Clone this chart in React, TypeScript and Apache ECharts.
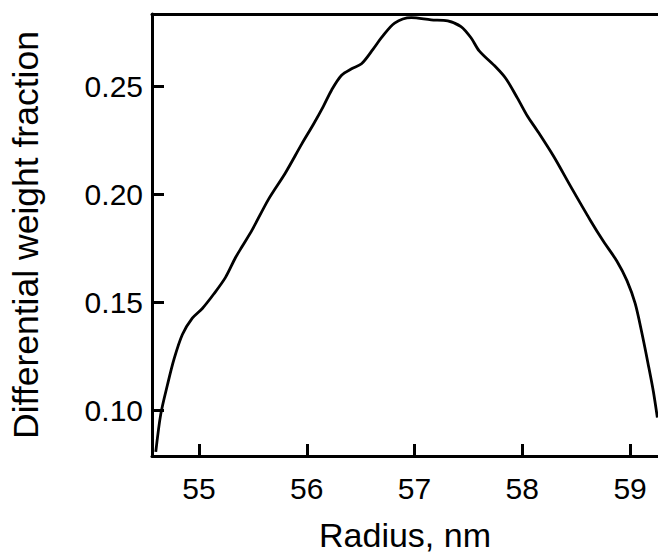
import React, { useEffect, useRef } from "react";
import * as echarts from "echarts";

const radius = [
  54.599, 54.645, 54.707, 54.769, 54.846, 54.938, 55.031, 55.139, 55.246, 55.338,
  55.4, 55.492, 55.646, 55.8, 55.954, 56.062, 56.154, 56.231, 56.323, 56.416,
  56.508, 56.616, 56.693, 56.815, 56.97, 57.154, 57.308, 57.431, 57.524, 57.6,
  57.754, 57.847, 57.955, 58.047, 58.139, 58.293, 58.447, 58.632, 58.754, 58.878,
  58.971, 59.047, 59.109, 59.17, 59.216, 59.253,
];
const fraction = [
  0.0807, 0.0981, 0.1117, 0.1238, 0.1351, 0.1427, 0.1472, 0.154, 0.1616, 0.1707,
  0.1759, 0.1835, 0.1979, 0.2099, 0.2235, 0.2326, 0.2409, 0.2485, 0.2553, 0.2583,
  0.2606, 0.2674, 0.2727, 0.2795, 0.282, 0.281, 0.2805, 0.2779, 0.2727, 0.2666,
  0.2591, 0.2538, 0.2447, 0.2364, 0.2296, 0.2175, 0.2039, 0.188, 0.1782, 0.1691,
  0.1601, 0.1495, 0.1359, 0.1208, 0.1087, 0.0966,
];
const xTicks = [55, 56, 57, 58, 59];
const yTicks = [0.1, 0.15, 0.2, 0.25];

const FONT = "'Liberation Sans', Arial, sans-serif";

export default function App() {
  const ref = useRef<HTMLDivElement>(null);
  useEffect(() => {
    if (!ref.current) return;
    const chart = echarts.init(ref.current, null, { renderer: "svg" });
    const axisLine = { show: true, lineStyle: { color: "#000", width: 3 } };
    chart.setOption({
      animation: false,
      backgroundColor: "#fff",
      grid: { left: 149.5, top: 14, right: 0, bottom: 91, containLabel: false },
      xAxis: [
        {
          type: "value",
          min: 54.564,
          max: 59.259,
          position: "bottom",
          axisLine,
          splitLine: { show: false },
          axisTick: {
            show: true,
            inside: true,
            length: 12,
            customValues: xTicks,
            lineStyle: { color: "#000", width: 3 },
          },
          axisLabel: {
            show: true,
            customValues: xTicks,
            margin: 17,
            color: "#000",
            fontSize: 30,
            fontFamily: FONT,
            formatter: (v: number) => String(Math.round(v)),
          },
          name: "Radius, nm",
          nameLocation: "middle",
          nameGap: 62,
          nameTextStyle: { color: "#000", fontSize: 34, fontFamily: FONT },
        },
        {
          type: "value",
          min: 54.564,
          max: 59.259,
          position: "top",
          axisLine,
          splitLine: { show: false },
          axisTick: { show: false },
          axisLabel: { show: false },
        },
      ],
      yAxis: {
        type: "value",
        min: 0.0788,
        max: 0.2837,
        axisLine,
        splitLine: { show: false },
        axisTick: {
          show: true,
          inside: true,
          length: 12,
          customValues: yTicks,
          lineStyle: { color: "#000", width: 3 },
        },
        axisLabel: {
          show: true,
          customValues: yTicks,
          margin: 9,
          color: "#000",
          fontSize: 30,
          fontFamily: FONT,
          formatter: (v: number) => v.toFixed(2),
        },
        name: "Differential weight fraction",
        nameLocation: "middle",
        nameGap: 108,
        nameTextStyle: { color: "#000", fontSize: 35.5, fontFamily: FONT },
      },
      series: [
        {
          type: "line",
          data: radius.map((x, i) => [x, fraction[i]]),
          smooth: 0.3,
          showSymbol: false,
          clip: true,
          lineStyle: { color: "#000", width: 2.8 },
        },
      ],
    });
    return () => chart.dispose();
  }, []);
  return (
    <div
      ref={ref}
      style={{ position: "fixed", left: 0, top: 0, width: 658, height: 557, background: "#fff" }}
    />
  );
}
